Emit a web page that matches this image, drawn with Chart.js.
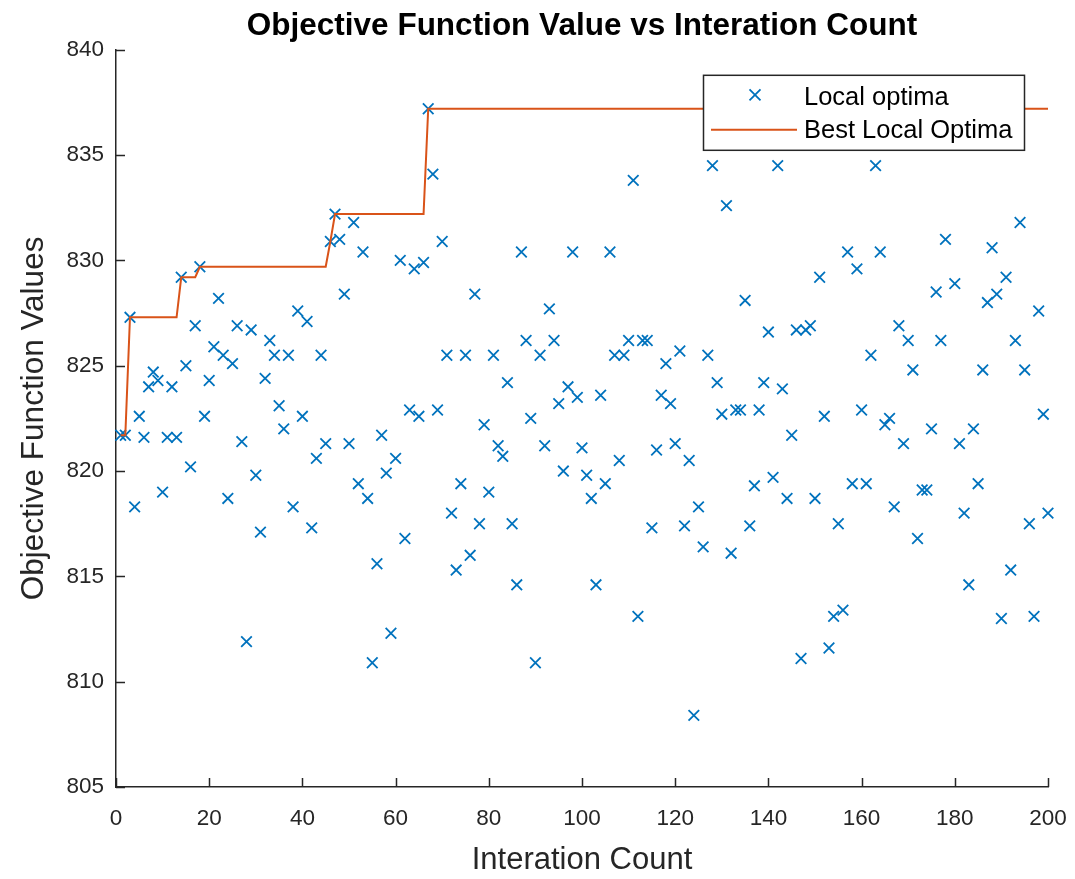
<!DOCTYPE html>
<html>
<head>
<meta charset="utf-8">
<title>Objective Function Value vs Interation Count</title>
<script src="https://cdn.jsdelivr.net/npm/chart.js@4.4.1/dist/chart.umd.min.js"></script>
<style>
    html, body { margin: 0; padding: 0; background: #fff; }
    #wrap { width: 1075px; height: 879px; }
</style>
</head>
<body>
<div id="wrap"><canvas id="optChart" width="1075" height="879"></canvas></div>
<script>
// iteration numbers (x) and the objective value found at each one
const iterations = [
    1, 2, 3, 4, 5, 6, 7, 8, 9, 10, 11, 12, 13, 14, 15, 16, 17, 18, 19, 20,
    21, 22, 23, 24, 25, 26, 27, 28, 29, 30, 31, 32, 33, 34, 35, 36, 37, 38, 39, 40,
    41, 42, 43, 44, 45, 46, 47, 48, 49, 50, 51, 52, 53, 54, 55, 56, 57, 58, 59, 60,
    61, 62, 63, 64, 65, 66, 67, 68, 69, 70, 71, 72, 73, 74, 75, 76, 77, 78, 79, 80,
    81, 82, 83, 84, 85, 86, 87, 88, 89, 90, 91, 92, 93, 94, 95, 96, 97, 98, 99, 100,
    101, 102, 103, 104, 105, 106, 107, 108, 109, 110, 111, 112, 113, 114, 115, 116, 117, 118, 119, 120,
    121, 122, 123, 124, 125, 126, 127, 128, 129, 130, 131, 132, 133, 134, 135, 136, 137, 138, 139, 140,
    141, 142, 143, 144, 145, 146, 147, 148, 149, 150, 151, 152, 153, 154, 155, 156, 157, 158, 159, 160,
    161, 162, 163, 164, 165, 166, 167, 168, 169, 170, 171, 172, 173, 174, 175, 176, 177, 178, 179, 180,
    181, 182, 183, 184, 185, 186, 187, 188, 189, 190, 191, 192, 193, 194, 195, 196, 197, 198, 199, 200
];

const localOptima = [
    821.7, 821.7, 827.3, 818.3, 822.6, 821.6, 824.0, 824.7, 824.3, 819.0,
    821.6, 824.0, 821.6, 829.2, 825.0, 820.2, 826.9, 829.7, 822.6, 824.3,
    825.9, 828.2, 825.5, 818.7, 825.1, 826.9, 821.4, 811.9, 826.7, 819.8,
    817.1, 824.4, 826.2, 825.5, 823.1, 822.0, 825.5, 818.3, 827.6, 822.6,
    827.1, 817.3, 820.6, 825.5, 821.3, 830.9, 832.2, 831.0, 828.4, 821.3,
    831.8, 819.4, 830.4, 818.7, 810.9, 815.6, 821.7, 819.9, 812.3, 820.6,
    830.0, 816.8, 822.9, 829.6, 822.6, 829.9, 837.2, 834.1, 822.9, 830.9,
    825.5, 818.0, 815.3, 819.4, 825.5, 816.0, 828.4, 817.5, 822.2, 819.0,
    825.5, 821.2, 820.7, 824.2, 817.5, 814.6, 830.4, 826.2, 822.5, 810.9,
    825.5, 821.2, 827.7, 826.2, 823.2, 820.0, 824.0, 830.4, 823.5, 821.1,
    819.8, 818.7, 814.6, 823.6, 819.4, 830.4, 825.5, 820.5, 825.5, 826.2,
    833.8, 813.1, 826.2, 826.2, 817.3, 821.0, 823.6, 825.1, 823.2, 821.3,
    825.7, 817.4, 820.5, 808.4, 818.3, 816.4, 825.5, 834.5, 824.2, 822.7,
    832.6, 816.1, 822.9, 822.9, 828.1, 817.4, 819.3, 822.9, 824.2, 826.6,
    819.7, 834.5, 823.9, 818.7, 821.7, 826.7, 811.1, 826.7, 826.9, 818.7,
    829.2, 822.6, 811.6, 813.1, 817.5, 813.4, 830.4, 819.4, 829.6, 822.9,
    819.4, 825.5, 834.5, 830.4, 822.2, 822.5, 818.3, 826.9, 821.3, 826.2,
    824.8, 816.8, 819.1, 819.1, 822.0, 828.5, 826.2, 831.0, null, 828.9,
    821.3, 818.0, 814.6, 822.0, 819.4, 824.8, 828.0, 830.6, 828.4, 813.0,
    829.2, 815.3, 826.2, 831.8, 824.8, 817.5, 813.1, 827.6, 822.7, 818.0
];

// corners of the "best so far" step line
const bestIterations = [1, 2, 3, 13, 14, 17, 18, 45, 46, 47, 66, 67, 200];
const bestValues = [821.7, 821.7, 827.3, 827.3, 829.2, 829.2, 829.7, 829.7, 830.9, 832.2, 832.2, 837.2, 837.2];

const xTicks = [0, 20, 40, 60, 80, 100, 120, 140, 160, 180, 200];
const yTicks = [805, 810, 815, 820, 825, 830, 835, 840];

const seriesNames = ['Local optima', 'Best Local Optima'];

const BLUE = '#0072BD';
const ORANGE = '#D95319';
const AXIS = '#262626';
const FONT = "'Liberation Sans', Arial, Helvetica, sans-serif";

// MATLAB style ticks point into the plot area
const inwardTicks = {
    id: 'inwardTicks',
    afterDraw(chart) {
        const ctx = chart.ctx;
        const area = chart.chartArea;
        const xs = chart.scales.x;
        const ys = chart.scales.y;
        const len = 9;
        ctx.save();
        ctx.strokeStyle = AXIS;
        ctx.lineWidth = 1.5;
        ctx.beginPath();
        xTicks.forEach(function(v) {
            const px = Math.round(xs.getPixelForValue(v)) + 0.5;
            ctx.moveTo(px, area.bottom);
            ctx.lineTo(px, area.bottom - len);
        });
        yTicks.forEach(function(v) {
            const py = Math.round(ys.getPixelForValue(v)) + 0.5;
            ctx.moveTo(area.left, py);
            ctx.lineTo(area.left + len, py);
        });
        ctx.stroke();
        ctx.restore();
    }
};

// legend box in the top right corner of the axes
const boxLegend = {
    id: 'boxLegend',
    afterDraw(chart) {
        const ctx = chart.ctx;
        const area = chart.chartArea;
        const w = 321, h = 75;
        const left = area.right - 24 - w;
        const top = area.top + 25;
        ctx.save();
        ctx.fillStyle = '#fff';
        ctx.fillRect(left, top, w, h);
        ctx.strokeStyle = AXIS;
        ctx.lineWidth = 1.5;
        ctx.strokeRect(left + 0.5, top + 0.5, w, h);

        // marker row
        const mx = left + 52, my = top + 20;
        const r = 5.5;
        ctx.strokeStyle = BLUE;
        ctx.lineWidth = 1.8;
        ctx.beginPath();
        ctx.moveTo(mx - r, my - r); ctx.lineTo(mx + r, my + r);
        ctx.moveTo(mx - r, my + r); ctx.lineTo(mx + r, my - r);
        ctx.stroke();

        // line row
        const ly = top + 55;
        ctx.strokeStyle = ORANGE;
        ctx.lineWidth = 2;
        ctx.beginPath();
        ctx.moveTo(left + 8, ly);
        ctx.lineTo(left + 94, ly);
        ctx.stroke();

        ctx.fillStyle = '#000';
        ctx.font = '25.5px ' + FONT;
        ctx.textBaseline = 'middle';
        ctx.textAlign = 'left';
        ctx.fillText(seriesNames[0], left + 101, my + 3);
        ctx.fillText(seriesNames[1], left + 101, ly + 1);
        ctx.restore();
    }
};

const ctx = document.getElementById('optChart').getContext('2d');

const optChart = new Chart(ctx, {
    data: {
        datasets: [
            {
                type: 'scatter',
                label: seriesNames[0],
                data: iterations.map(function(it, i) { return { x: it, y: localOptima[i] }; }),
                pointStyle: 'crossRot',
                pointRadius: 7.5,
                pointHoverRadius: 7.5,
                borderWidth: 1.8,
                borderColor: BLUE,
                backgroundColor: BLUE,
                clip: false,
                order: 1
            },
            {
                type: 'line',
                label: seriesNames[1],
                data: bestIterations.map(function(it, i) { return { x: it, y: bestValues[i] }; }),
                borderColor: ORANGE,
                borderWidth: 2,
                pointRadius: 0,
                tension: 0,
                fill: false,
                order: 0
            }
        ]
    },
    options: {
        responsive: false,
        animation: false,
        events: [],
        layout: { padding: { left: 0, right: 27, top: 0, bottom: 0 } },
        scales: {
            x: {
                type: 'linear',
                min: 0,
                max: 200,
                afterBuildTicks: function(scale) {
                    scale.ticks = xTicks.map(function(v) { return { value: v }; });
                },
                afterFit: function(scale) {
                    scale.height = 92;
                    scale.paddingLeft = 0;
                    scale.paddingRight = 0;
                },
                ticks: {
                    color: AXIS,
                    font: { family: FONT, size: 22.5 },
                    padding: 18,
                    maxRotation: 0
                },
                grid: { display: true, drawOnChartArea: false, drawTicks: false },
                border: { display: true, color: AXIS, width: 1.5 },
                title: {
                    display: true,
                    text: 'Interation Count',
                    color: AXIS,
                    font: { family: FONT, size: 31 },
                    padding: { top: 0, bottom: 0 }
                }
            },
            y: {
                type: 'linear',
                min: 805,
                max: 840,
                afterBuildTicks: function(scale) {
                    scale.ticks = yTicks.map(function(v) { return { value: v }; });
                },
                afterFit: function(scale) {
                    scale.width = 116;
                    scale.paddingTop = 0;
                    scale.paddingBottom = 0;
                },
                ticks: {
                    color: AXIS,
                    font: { family: FONT, size: 22.5 },
                    padding: 12
                },
                grid: { display: true, drawOnChartArea: false, drawTicks: false },
                border: { display: true, color: AXIS, width: 1.5 },
                title: {
                    display: true,
                    text: 'Objective Function Values',
                    color: AXIS,
                    font: { family: FONT, size: 31.5 },
                    padding: { top: 15, bottom: 0 }
                }
            }
        },
        plugins: {
            legend: { display: false },
            tooltip: { enabled: false },
            title: {
                display: true,
                fullSize: false,
                text: 'Objective Function Value vs Interation Count',
                color: '#000',
                font: { family: FONT, size: 31.5, weight: 'bold' },
                padding: { top: 7, bottom: 5 }
            }
        }
    },
    plugins: [inwardTicks, boxLegend]
});
</script>
</body>
</html>
